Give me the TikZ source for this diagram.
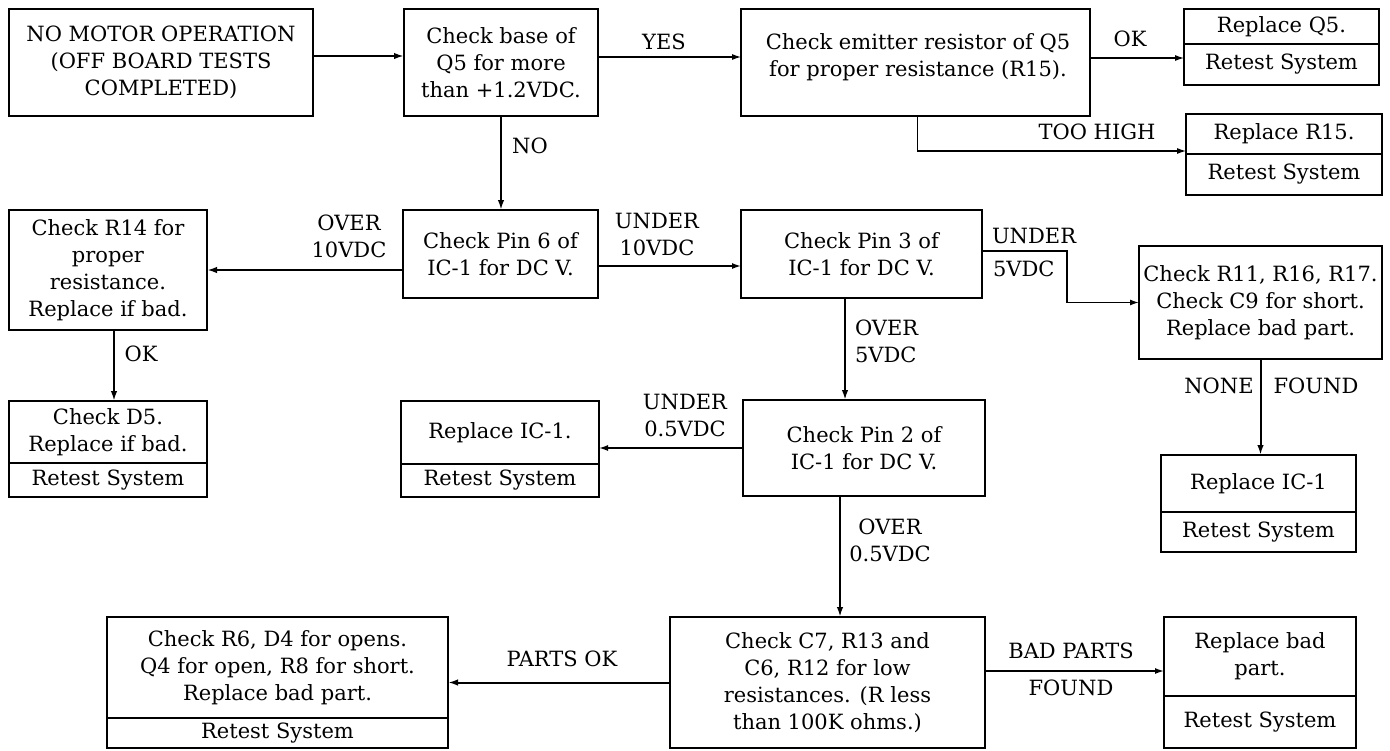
\documentclass[tikz,border=0pt]{standalone}
\usepackage{fontspec}
\setmainfont{DejaVu Serif}
\usetikzlibrary{arrows.meta}
\tikzset{
  box/.style={draw, line width=2.2pt, inner sep=0pt, outer sep=0pt, align=center},
  lab/.style={inner sep=0pt, outer sep=0pt},
  arr/.style={line width=2pt, -{Latex[length=10pt,width=6.5pt]}},
  arrmid/.style={line width=1.5pt, -{Latex[length=9pt,width=6pt]}},
  arrthin/.style={line width=1.1pt, -{Latex[length=9pt,width=6pt]}},
}
\begin{document}
\begin{tikzpicture}[x=1pt,y=-1pt,font=\fontsize{21}{27}\selectfont]
\fill[white] (0,0) rectangle (1390,750);
\useasboundingbox (0,0) rectangle (1390,750);

% top row
\node[box, minimum width=304pt, minimum height=107pt] (start) at (161,62.5) {NO MOTOR OPERATION\\(OFF BOARD TESTS\\COMPLETED)};
\node[box, minimum width=194pt, minimum height=107pt] (q5) at (501,62.5) {Check base of\\Q5 for more\\than +1.2VDC.};
\node[box, minimum width=349pt, minimum height=107pt] (emit) at (915.5,62.5) {};
\node[lab, align=center] (emitT) at (918,57) {Check emitter resistor of Q5\\for proper resistance (R15).};
\node[box, minimum width=195pt, minimum height=35pt] (rq5a) at (1281.5,26.5) {Replace Q5.};
\node[box, minimum width=195pt, minimum height=41pt] (rq5b) at (1281.5,64.5) {Retest System};
\node[box, minimum width=196pt, minimum height=40pt] (rr15a) at (1284,134) {Replace R15.};
\node[box, minimum width=196pt, minimum height=41pt] (rr15b) at (1284,174.5) {Retest System};

% second row
\node[box, minimum width=198pt, minimum height=120pt] (r14) at (108,270) {Check R14 for\\proper\\resistance.\\Replace if bad.};
\node[box, minimum width=195pt, minimum height=88pt] (pin6) at (500.5,254) {Check Pin 6 of\\IC-1 for DC V.};
\node[box, minimum width=241pt, minimum height=88pt] (pin3) at (861.5,254) {Check Pin 3 of\\IC-1 for DC V.};
\node[box, minimum width=243pt, minimum height=113pt] (c9) at (1260.5,302.5) {Check R11, R16, R17.\\Check C9 for short.\\Replace bad part.};

% third row
\node[box, minimum width=198pt, minimum height=62pt] (d5a) at (108,432) {Check D5.\\Replace if bad.};
\node[box, minimum width=198pt, minimum height=34pt] (d5b) at (108,480) {Retest System};
\node[box, minimum width=198pt, minimum height=63pt] (ic1a) at (500,432.5) {Replace IC-1.};
\node[box, minimum width=198pt, minimum height=33pt] (ic1b) at (500,480.5) {Retest System};
\node[box, minimum width=242pt, minimum height=96pt] (pin2) at (864,448) {Check Pin 2 of\\IC-1 for DC V.};
\node[box, minimum width=195pt, minimum height=57pt] (icRa) at (1258.5,483.5) {Replace IC-1};
\node[box, minimum width=195pt, minimum height=40pt] (icRb) at (1258.5,532) {Retest System};

% bottom row
\node[box, minimum width=341pt, minimum height=101pt] (bla) at (277.5,667.5) {Check R6, D4 for opens.\\Q4 for open, R8 for short.\\Replace bad part.};
\node[box, minimum width=341pt, minimum height=30pt] (blb) at (277.5,733) {Retest System};
\node[box, minimum width=315pt, minimum height=131pt] (c7) at (827.5,682.5) {Check C7, R13 and\\C6, R12 for low\\resistances. (R less\\than 100K ohms.)};
\node[box, minimum width=192pt, minimum height=79pt] (rbada) at (1260,656.5) {Replace bad\\part.};
\node[box, minimum width=192pt, minimum height=52pt] (rbadb) at (1260,722) {Retest System};

% connectors
\draw[arr] ([yshift=6.5pt]start.east) -- ([yshift=6.5pt]q5.west);
\draw[arrthin] ([yshift=5.5pt]q5.east) -- ([yshift=5.5pt]emit.west);
\draw[arrthin] ([yshift=4.5pt]emit.east) -- ([yshift=6.5pt]rq5b.west);
\draw[arrthin] ([xshift=2pt]emit.south) |- ([yshift=-17pt]rr15a.west);
\draw[arr] (q5.south) -- (q5.south |- pin6.north);
\draw[arr] (pin6.west |- r14.east) -- (r14.east);
\draw[arrmid] ([yshift=-12pt]pin6.east) -- ([yshift=-12pt]pin3.west);
\draw[arrmid] ([yshift=3pt]pin3.east) -- ++(85,0) |- (c9.west);
\coordinate (o5) at ([xshift=-16.5pt]pin3.south);
\draw[arr] (o5) -- (o5 |- pin2.north);
\draw[arrmid] (pin2.west) -- (pin2.west -| ic1a.east);
\coordinate (o05) at ([xshift=-24pt]pin2.south);
\draw[arr] (o05) -- (o05 |- c7.north);
\draw[arr] (c7.west) -- (c7.west -| bla.east);
\coordinate (bp) at ([yshift=11.5pt]c7.east);
\draw[arrmid] (bp) -- (bp -| rbada.west);
\draw[arr] (c9.south) -- (c9.south |- icRa.north);
\coordinate (okc) at ([xshift=6pt]r14.south);
\draw[arr] (okc) -- (okc |- d5a.north);

% labels
\node[lab] (lyes) at (664,42) {YES};
\node[lab] (lok1) at (1130,39) {OK};
\node[lab] (ltoo) at (1097,132) {TOO HIGH};
\node[lab] (lno) at (530,146) {NO};
\node[lab, align=center] (lov10) at (349,236.5) {OVER\\10VDC};
\node[lab, align=center] (lun10) at (657,234.5) {UNDER\\10VDC};
\node[lab, anchor=west] (lun5a) at (992,236) {UNDER};
\node[lab, anchor=west] (lun5b) at (993,269) {5VDC};
\node[lab, align=left, anchor=west] (lov5) at (855,341.5) {OVER\\5VDC};
\node[lab, align=center] (lun05) at (685,415.5) {UNDER\\0.5VDC};
\node[lab, align=center] (lov05) at (890,540) {OVER\\0.5VDC};
\node[lab] (lnone) at (1219,386) {NONE};
\node[lab] (lfound) at (1316,386) {FOUND};
\node[lab] (lpok) at (562,659) {PARTS OK};
\node[lab] (lbad1) at (1071,651) {BAD PARTS};
\node[lab] (lbad2) at (1071,688) {FOUND};
\node[lab] (lok2) at (141,354) {OK};
\end{tikzpicture}
\end{document}
